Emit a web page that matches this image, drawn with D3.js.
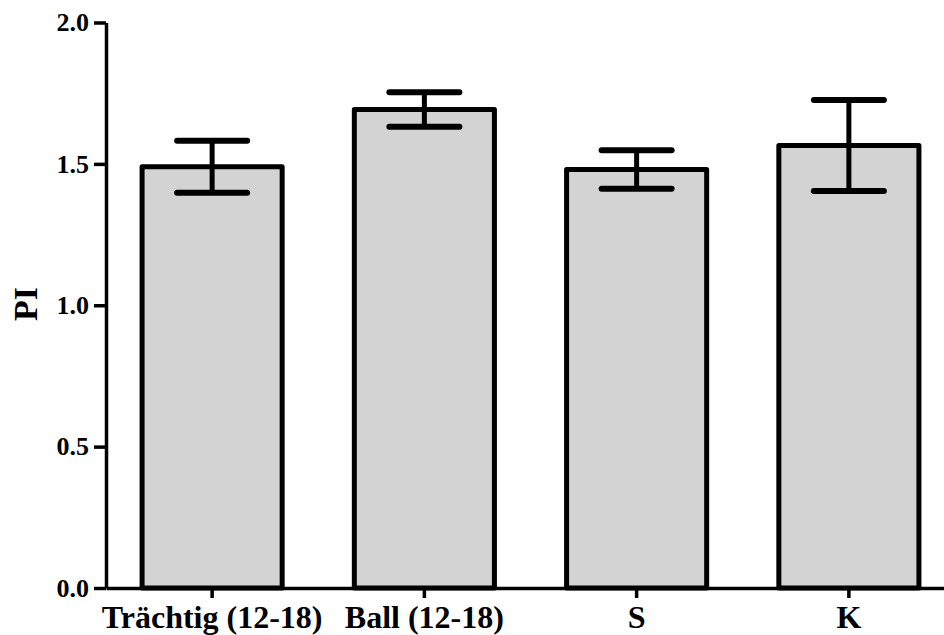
<!DOCTYPE html>
<html>
<head>
<meta charset="utf-8">
<script src="https://cdn.jsdelivr.net/npm/d3@7"></script>
<style>
  body { margin: 0; background: #fff; }
  .axis path, .axis line { stroke: #000; stroke-width: 3.5; }
</style>
</head>
<body>
<svg id="chart"></svg>
<script>
// categories on the x axis
const groups = ['Trächtig (12-18)', 'Ball (12-18)', 'S', 'K'];
// mean PI per group
const means = [1.49, 1.692, 1.48, 1.565];
// error (SEM) per group
const errors = [0.092, 0.061, 0.068, 0.161];
// y tick values
const yTicks = [0, 0.5, 1.0, 1.5, 2.0];

const width = 944;
const height = 635;
const serif = '"Liberation Serif", "Times New Roman", Times, serif';

const data = groups.map((g, i) => ({ group: g, mean: means[i], err: errors[i] }));

const xScale = d3
  .scaleBand()
  .domain(groups)
  .range([106, 955])
  .paddingInner(0.34)
  .paddingOuter(0.17);

const yScale = d3
  .scaleLinear()
  .domain([0, 2])
  .range([588, 22.5]);

const svg = d3
  .select('#chart')
  .attr('width', width)
  .attr('height', height);

// bars
svg
  .selectAll('.bar')
  .data(data)
  .enter()
  .append('rect')
  .attr('class', 'bar')
  .attr('x', d => xScale(d.group))
  .attr('width', xScale.bandwidth())
  .attr('y', d => yScale(d.mean))
  .attr('height', d => yScale(0) - yScale(d.mean))
  .attr('fill', '#d3d3d3')
  .attr('stroke', '#000')
  .attr('stroke-width', 5)
  .attr('stroke-linejoin', 'round');

// error bars
const capHalf = 35;
const errG = svg.selectAll('.err').data(data).enter().append('g').attr('class', 'err');

errG
  .append('line')
  .attr('x1', d => xScale(d.group) + xScale.bandwidth() / 2)
  .attr('x2', d => xScale(d.group) + xScale.bandwidth() / 2)
  .attr('y1', d => yScale(d.mean + d.err))
  .attr('y2', d => yScale(d.mean - d.err))
  .attr('stroke', '#000')
  .attr('stroke-width', 5);

[1, -1].forEach(sign => {
  errG
    .append('line')
    .attr('x1', d => xScale(d.group) + xScale.bandwidth() / 2 - capHalf)
    .attr('x2', d => xScale(d.group) + xScale.bandwidth() / 2 + capHalf)
    .attr('y1', d => yScale(d.mean + sign * d.err))
    .attr('y2', d => yScale(d.mean + sign * d.err))
    .attr('stroke', '#000')
    .attr('stroke-width', 6)
    .attr('stroke-linecap', 'round');
});

// axes
const xAxis = d3.axisBottom(xScale).tickSize(10).tickSizeOuter(0).tickPadding(7);
const yAxis = d3
  .axisLeft(yScale)
  .tickValues(yTicks)
  .tickFormat(d3.format('.1f'))
  .tickSize(12)
  .tickSizeOuter(0)
  .tickPadding(5);

svg
  .append('g')
  .attr('class', 'axis')
  .attr('transform', `translate(0,${yScale(0)})`)
  .call(xAxis)
  .attr('font-family', serif)
  .selectAll('text')
  .style('font-family', serif)
  .style('font-weight', 'bold')
  .style('fill', '#000')
  .style('font-size', '32px');

svg
  .append('g')
  .attr('class', 'axis')
  .attr('transform', 'translate(106,0)')
  .call(yAxis)
  .attr('font-family', serif)
  .selectAll('text')
  .style('font-family', serif)
  .style('font-weight', 'bold')
  .style('fill', '#000')
  .style('font-size', '26px');

// y label
svg
  .append('text')
  .attr('transform', 'rotate(-90)')
  .attr('x', -304)
  .attr('y', 37)
  .attr('text-anchor', 'middle')
  .style('font-family', serif)
  .style('font-weight', 'bold')
  .style('font-size', '34px')
  .text('PI');
</script>
</body>
</html>
